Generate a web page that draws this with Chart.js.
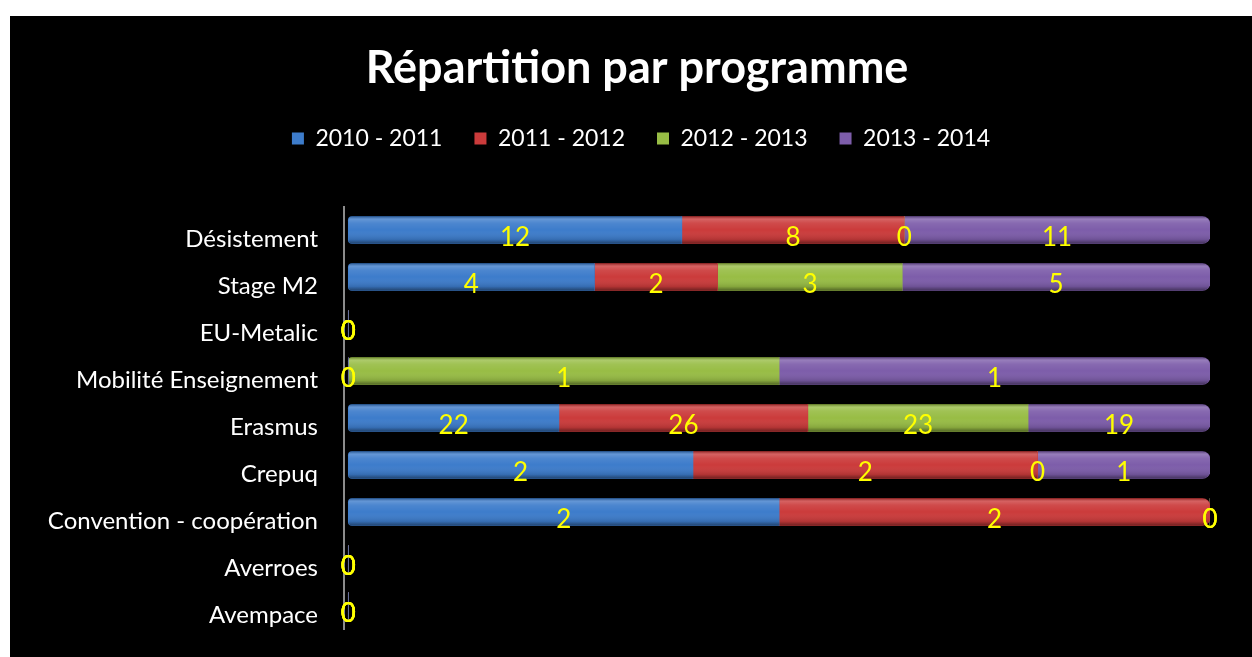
<!DOCTYPE html>
<html>
<head>
<meta charset="utf-8">
<script src="https://cdn.jsdelivr.net/npm/chart.js@4.4.1/dist/chart.umd.min.js"></script>
<style>
  body { margin: 0; background: #fff; }
  #wrap { position: absolute; left: 10px; top: 16px; width: 1242px; height: 641px; background: #000; }
</style>
</head>
<body>
<div id="wrap"><canvas id="chart"></canvas></div>
<script>
const categories = ["Désistement", "Stage M2", "EU-Metalic", "Mobilité Enseignement", "Erasmus", "Crepuq", "Convention - coopération", "Averroes", "Avempace"];
const seriesNames = ["2010 - 2011", "2011 - 2012", "2012 - 2013", "2013 - 2014"];
const v2010 = [12, 4, 0, 0, 22, 2, 2, 0, 0];
const v2011 = [8, 2, 0, 0, 26, 2, 2, 0, 0];
const v2012 = [0, 3, 0, 1, 23, 0, 0, 0, 0];
const v2013 = [11, 5, 0, 1, 19, 1, 0, 0, 0];
const colors = ["#3D7CCB", "#CB3B3B", "#98BD45", "#7D5DAA"];

const values = [v2010, v2011, v2012, v2013];
const totals = categories.map((c, j) => values.reduce((s, v) => s + v[j], 0));
const percent = v => v.map((x, j) => totals[j] ? x / totals[j] * 100 : 0);

// first / last non-zero segment per row, for the rounded ends
function ends(j) {
  let first = -1, last = -1;
  values.forEach((v, i) => { if (v[j] > 0) { if (first < 0) first = i; last = i; } });
  return { first, last };
}
function radius(i, j) {
  const e = ends(j);
  const r = { topLeft: 0, bottomLeft: 0, topRight: 0, bottomRight: 0 };
  if (i === e.first) { r.topLeft = 4; r.bottomLeft = 4; }
  if (i === e.last) { r.topRight = 8; r.bottomRight = 8; }
  return r;
}

const barDeco = {
  id: "barDeco",
  beforeInit(chart) {
    const fit = chart.legend.fit;
    chart.legend.fit = function () {
      fit.call(this);
      this.height = 111.5;
    };
  },
  afterLayout(chart) {
    // centre title and legend like the original (not over the whole canvas)
    chart.titleBlock.left = 54;
    chart.legend.left = 62;
  },
  afterDatasetsDraw(chart) {
    const ctx = chart.ctx;
    // shading to fake the 3D look
    chart.data.datasets.forEach((ds, i) => {
      chart.getDatasetMeta(i).data.forEach((bar, j) => {
        const left = Math.min(bar.x, bar.base), right = Math.max(bar.x, bar.base);
        const w = right - left, h = bar.height, top = bar.y - h / 2;
        if (w < 0.5) return;
        const r = radius(i, j);
        ctx.save();
        ctx.beginPath();
        ctx.roundRect(left, top, w, h, [r.topLeft, r.topRight, r.bottomRight, r.bottomLeft]);
        ctx.clip();
        const g = ctx.createLinearGradient(0, top, 0, top + h);
        g.addColorStop(0, "rgba(0,0,0,0.25)");
        g.addColorStop(0.1, "rgba(255,255,255,0.2)");
        g.addColorStop(0.25, "rgba(255,255,255,0.08)");
        g.addColorStop(0.5, "rgba(255,255,255,0)");
        g.addColorStop(0.85, "rgba(0,0,0,0.12)");
        g.addColorStop(1, "rgba(0,0,0,0.45)");
        ctx.fillStyle = g;
        ctx.fillRect(left, top, w, h);
        ctx.restore();
      });
    });
    // value labels
    ctx.save();
    ctx.font = "26px Lato";
    ctx.fillStyle = "#FFFF00";
    ctx.textAlign = "center";
    ctx.textBaseline = "middle";
    chart.data.datasets.forEach((ds, i) => {
      chart.getDatasetMeta(i).data.forEach((bar, j) => {
        ctx.fillText(String(values[i][j]), (bar.x + bar.base) / 2, bar.y + 8);
      });
    });
    ctx.restore();
  }
};

new Chart(document.getElementById("chart"), {
  type: "bar",
  data: {
    labels: categories,
    datasets: seriesNames.map((name, i) => ({
      label: name,
      data: percent(values[i]),
      backgroundColor: colors[i],
      borderWidth: 0,
      borderSkipped: false,
      borderRadius: ctx => radius(ctx.datasetIndex, ctx.dataIndex),
      barThickness: 27
    }))
  },
  options: {
    indexAxis: "y",
    responsive: true,
    maintainAspectRatio: false,
    animation: false,
    layout: { padding: { top: 25, right: 42, bottom: 27.5, left: 0 } },
    scales: {
      x: { stacked: true, min: -0.5, max: 100, display: false },
      y: {
        stacked: true,
        grid: { display: false, drawTicks: false },
        border: { display: true, color: "#8c8c8c", width: 2 },
        ticks: { color: "#fff", font: { family: "Lato", size: 24 }, padding: 26, labelOffset: 9 },
        afterFit(scale) {
          scale.width = 334;
          scale.paddingTop = 0;
          scale.paddingBottom = 0;
        }
      }
    },
    plugins: {
      title: {
        display: true,
        text: "Répartition par programme",
        color: "#fff",
        font: { family: "Lato", size: 45, weight: "bold", lineHeight: 1.2 },
        padding: { top: 0, bottom: 0 }
      },
      legend: {
        labels: { color: "#fff", font: { family: "Lato", size: 23 }, boxWidth: 12, boxHeight: 12, padding: 32 }
      },
      tooltip: { enabled: false }
    }
  },
  plugins: [barDeco]
});
</script>
</body>
</html>
